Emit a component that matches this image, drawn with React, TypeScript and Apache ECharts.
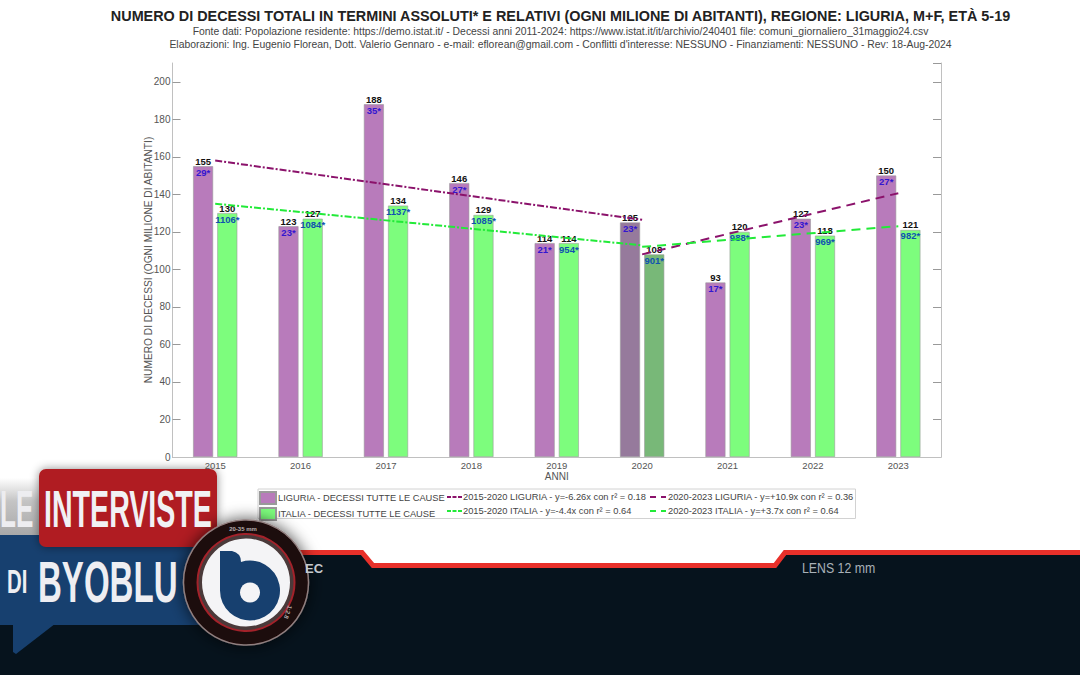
import React, { useEffect, useRef } from "react";
import * as echarts from "echarts";

const years = ["2015", "2016", "2017", "2018", "2019", "2020", "2021", "2022", "2023"];
const liguria = [155, 123, 188, 146, 114, 125, 93, 127, 150];
const italia = [130, 127, 134, 129, 114, 108, 120, 118, 121];
const liguriaAbs = ["29*", "23*", "35*", "27*", "21*", "23*", "17*", "23*", "27*"];
const italiaAbs = ["1106*", "1084*", "1137*", "1085*", "954*", "901*", "988*", "969*", "982*"];
const ligTrendA = [158, null, null, null, null, 126.4, null, null, null];
const itaTrendA = [135, null, null, null, null, 112.8, null, null, null];
const ligTrendB = [null, null, null, null, null, 108, null, null, 140.6];
const itaTrendB = [null, null, null, null, null, 112, null, null, 123];

const NAME_LIG = "LIGURIA - DECESSI TUTTE LE CAUSE";
const NAME_ITA = "ITALIA - DECESSI TUTTE LE CAUSE";
const NAME_LIG_A = "2015-2020 LIGURIA - y=-6.26x con r² = 0.18";
const NAME_ITA_A = "2015-2020 ITALIA - y=-4.4x con r² = 0.64";
const NAME_LIG_B = "2020-2023 LIGURIA - y=+10.9x con r² = 0.36";
const NAME_ITA_B = "2020-2023 ITALIA - y=+3.7x con r² = 0.64";

const TITLE = "NUMERO DI DECESSI TOTALI IN TERMINI ASSOLUTI* E RELATIVI (OGNI MILIONE DI ABITANTI), REGIONE: LIGURIA, M+F, ETÀ 5-19";
const SUB1 = "Fonte dati: Popolazione residente: https://demo.istat.it/ - Decessi anni 2011-2024: https://www.istat.it/it/archivio/240401 file: comuni_giornaliero_31maggio24.csv";
const SUB2 = "Elaborazioni: Ing. Eugenio Florean, Dott. Valerio Gennaro - e-mail: eflorean@gmail.com - Conflitti d'interesse: NESSUNO - Finanziamenti: NESSUNO - Rev: 18-Aug-2024";

echarts.graphic.registerShape(
  "byobluB",
  echarts.graphic.extendPath("M220 551 L232 551 Q241 553 241 561.9 A30 30 0 1 1 220 590.5 Z", {} as any)
);

const FONT = "'Liberation Sans', Arial, sans-serif";
const AXIS = "#c0c0c0";
const TICK_TEXT = "#555";
const ICON_A = "path://M0 0L0 0M15 12L15 12M0 5H4V7H0ZM5.5 5H9.5V7H5.5ZM11 5H15V7H11Z";
const ICON_B = "path://M0 0L0 0M16 12L16 12M0 5H6V7H0ZM11 5H16V7H11Z";

function barSeries(name: string, values: number[], notes: string[], color: string, color2020: string, noteColor: string) {
  return {
    name,
    type: "bar",
    barWidth: 20,
    barGap: "21%",
    itemStyle: { color, borderColor: "#9a9a9a", borderWidth: 0.6 },
    data: values.map((v, i) => ({
      value: v,
      note: notes[i],
      itemStyle: years[i] === "2020" ? { color: color2020 } : undefined,
    })),
    label: {
      show: true,
      position: "top",
      distance: 0,
      offset: [0, 11.5],
      formatter: (p: any) => `{a|${p.value}}\n{b|${p.data.note}}`,
      rich: {
        a: { fontFamily: FONT, fontSize: 9.5, fontWeight: "bold", color: "#111", lineHeight: 11, align: "center" },
        b: { fontFamily: FONT, fontSize: 9.5, fontWeight: "bold", color: noteColor, lineHeight: 11, align: "center" },
      },
    },
  };
}

function trendSeries(name: string, values: (number | null)[], color: string, type: number[]) {
  return {
    name,
    type: "line",
    data: values,
    connectNulls: true,
    symbol: "none",
    z: 5,
    itemStyle: { color },
    lineStyle: { color, width: 2, type },
  };
}

function legendColumn(names: string[], left: number, itemWidth: number, icon: string, shift: number) {
  return {
    orient: "vertical",
    left,
    top: 491,
    padding: 0,
    itemGap: 2,
    itemWidth,
    itemHeight: 12,
    data: names.map((name) => ({ name, icon })),
    textStyle: { fontFamily: FONT, fontSize: 9.3, color: "#444", padding: [0, 0, 0, shift] },
    selectedMode: false,
  };
}

function decoration() {
  const t = (x: number, y: number, text: string, fontSize: number, fill: string, sx: number, weight = "bold") => ({
    type: "text",
    x,
    y,
    scaleX: sx,
    z: 120,
    style: { text, fill, font: `${weight} ${fontSize}px ${FONT}`, textVerticalAlign: "middle", textAlign: "left" },
  });
  const pts = [[0, 552.5], [362, 552.5], [373, 565.5], [775, 565.5], [785, 552.5], [1080, 552.5]];
  return [
    { type: "rect", z: 1, shape: { x: 258, y: 489, width: 597.5, height: 29.5 }, style: { fill: "#fff", stroke: "#d2d2d2", lineWidth: 1 } },
    { type: "polygon", z: 90, shape: { points: [...pts, [1080, 675], [0, 675]] }, style: { fill: "#06131d" } },
    { type: "polyline", z: 91, shape: { points: pts }, style: { fill: "none", stroke: "#e8302a", lineWidth: 5 } },
    {
      type: "rect", z: 100, shape: { x: 0, y: 478, width: 60, height: 58 },
      style: { fill: new echarts.graphic.LinearGradient(0, 0, 0, 1, [{ offset: 0, color: "#ffffff" }, { offset: 0.4, color: "#c4c4c4" }, { offset: 1, color: "#a8a8a8" }]) },
    },
    { type: "polygon", z: 100, shape: { points: [[13, 620], [60, 620], [16, 654], [13, 652]] }, style: { fill: "#17406f" } },
    { type: "rect", z: 101, shape: { x: 0, y: 535, width: 230, height: 90 }, style: { fill: "#17406f" } },
    { type: "rect", z: 102, shape: { x: 39, y: 469, width: 178, height: 78, r: 7 }, style: { fill: "#b01c20", shadowBlur: 10, shadowColor: "rgba(0,0,0,0.45)" } },
    t(44, 509, "INTERVISTE", 52, "#f1f1f4", 0.55),
    t(0, 509, "LE", 52, "#ededf0", 0.5),
    t(38, 581.5, "BYOBLU", 58, "#eeeef2", 0.57),
    t(7, 581, "DI", 34, "#eeeef2", 0.6),
    { type: "circle", z: 110, shape: { cx: 246, cy: 582.5, r: 62.5 }, style: { fill: "#1e0707", stroke: "#8f7f7f", lineWidth: 1.5, shadowBlur: 16, shadowColor: "rgba(0,0,0,0.7)" } },
    { type: "circle", z: 111, shape: { cx: 246, cy: 582.5, r: 48.5 }, style: { fill: "#4a3a3a", stroke: "#a3222a", lineWidth: 2 } },
    { type: "circle", z: 111, shape: { cx: 246, cy: 582.5, r: 44 }, style: { fill: "#f4f4f6" } },
    { type: "byobluB", z: 112, x: 0, y: 0, style: { fill: "#17406f" } },
    { type: "circle", z: 113, shape: { cx: 250, cy: 592.5, r: 10 }, style: { fill: "#f4f4f6" } },
    { type: "text", z: 120, x: 243, y: 529, style: { text: "20-35 mm", fill: "#b8b0b0", font: `bold 6px ${FONT}`, textAlign: "center", textVerticalAlign: "middle" } },
    { type: "text", z: 120, x: 288, y: 612, rotation: -1.9, style: { text: "1:2.8", fill: "#b8b0b0", font: `bold 6px ${FONT}`, textAlign: "center", textVerticalAlign: "middle" } },
    t(305, 568, "EC", 13, "#c4c9ce", 1),
    t(802, 568, "LENS 12 mm", 14.5, "#a9b1b8", 0.85, "normal"),
  ];
}

export default function App() {
  const ref = useRef<HTMLDivElement>(null);
  useEffect(() => {
    if (!ref.current) return;
    const chart = echarts.init(ref.current, undefined, { renderer: "svg" });
    const valueAxisBase = { type: "value", min: 0, max: 210, interval: 20, splitLine: { show: false } };
    chart.setOption({
      animation: false,
      backgroundColor: "#ffffff",
      title: [
        { text: TITLE, left: 555.5, top: 4, textAlign: "center", textStyle: { fontFamily: FONT, fontSize: 14.4, fontWeight: "bold", color: "#222" } },
        { text: SUB1, left: 555.5, top: 21, textAlign: "center", textStyle: { fontFamily: FONT, fontSize: 10.4, fontWeight: "normal", color: "#444" } },
        { text: SUB2, left: 555.5, top: 34, textAlign: "center", textStyle: { fontFamily: FONT, fontSize: 10.4, fontWeight: "normal", color: "#444" } },
      ],
      grid: { left: 172.5, top: 63, width: 768.5, height: 394 },
      legend: [
        legendColumn([NAME_LIG, NAME_ITA], 259, 16, "rect", -3),
        legendColumn([NAME_LIG_A, NAME_ITA_A], 447, 15, ICON_A, -4),
        legendColumn([NAME_LIG_B, NAME_ITA_B], 650, 16, ICON_B, -3),
      ],
      xAxis: [
        {
          type: "category",
          data: years,
          position: "bottom",
          name: "ANNI",
          nameLocation: "middle",
          nameGap: 14,
          nameMoveOverlap: false,
          nameTextStyle: { fontFamily: FONT, fontSize: 10, color: TICK_TEXT },
          axisLine: { lineStyle: { color: AXIS } },
          axisTick: { alignWithLabel: true, inside: true, length: 6, lineStyle: { color: "#aaa" } },
          axisLabel: { fontFamily: FONT, fontSize: 9.5, color: TICK_TEXT, margin: 3 },
          splitLine: { show: false },
          z: 200,
        },
        {
          type: "category",
          data: years,
          position: "top",
          axisLine: { lineStyle: { color: AXIS } },
          axisTick: { alignWithLabel: true, inside: true, length: 6, lineStyle: { color: "#aaa" } },
          axisLabel: { show: false },
          splitLine: { show: false },
        },
      ],
      yAxis: [
        {
          ...valueAxisBase,
          position: "left",
          name: "NUMERO DI DECESSI (OGNI MILIONE DI ABITANTI)",
          nameLocation: "middle",
          nameGap: 19,
          nameMoveOverlap: false,
          nameTextStyle: { fontFamily: FONT, fontSize: 10.2, color: TICK_TEXT },
          axisLine: { show: true, lineStyle: { color: AXIS } },
          axisTick: { show: true, inside: true, length: 8, lineStyle: { color: "#999" } },
          axisLabel: { fontFamily: FONT, fontSize: 10, color: TICK_TEXT, margin: 2, showMaxLabel: false },
        },
        {
          ...valueAxisBase,
          position: "right",
          axisLine: { show: true, lineStyle: { color: AXIS } },
          axisTick: { show: true, inside: true, length: 8, lineStyle: { color: "#999" } },
          axisLabel: { show: false },
        },
      ],
      series: [
        barSeries(NAME_LIG, liguria, liguriaAbs, "#b87bbb", "#967a9c", "#3316d0"),
        barSeries(NAME_ITA, italia, italiaAbs, "#7dfd7d", "#78b878", "#0f52b0"),
        trendSeries(NAME_LIG_A, ligTrendA, "#8b126b", [7, 2, 2, 2]),
        trendSeries(NAME_ITA_A, itaTrendA, "#22ea38", [7, 2, 2, 2]),
        trendSeries(NAME_LIG_B, ligTrendB, "#8b126b", [9, 6]),
        trendSeries(NAME_ITA_B, itaTrendB, "#22ea38", [9, 6]),
      ],
      graphic: { elements: decoration() },
    });
    return () => chart.dispose();
  }, []);
  return <div ref={ref} style={{ position: "fixed", left: 0, top: 0, width: 1080, height: 675, background: "#fff" }} />;
}
